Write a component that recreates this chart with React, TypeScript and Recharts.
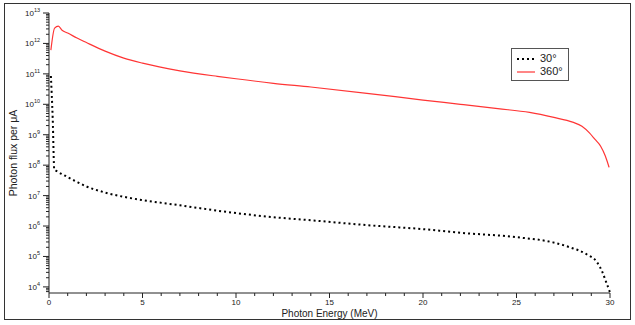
import { LineChart, Line, XAxis, YAxis, Legend } from 'recharts';

// 360 deg curve
const energy360 = [0.1, 0.3, 0.5, 0.7, 1, 1.5, 2, 3, 4, 5, 7, 9, 10, 12, 14, 17, 20, 22, 24, 25.7, 27, 28, 28.5, 28.9, 29.2, 29.5, 29.75, 29.95];
const flux360 = [6.0e11, 3.2e12, 3.7e12, 2.7e12, 2.2e12, 1.5e12, 1.07e12, 5.6e11, 3.3e11, 2.25e11, 1.26e11, 8.3e10, 6.9e10, 4.9e10, 3.7e10, 2.3e10, 1.38e10, 1.0e10, 7.2e9, 5.4e9, 3.7e9, 2.6e9, 1.9e9, 1.15e9, 7.0e8, 4.2e8, 2.0e8, 8.5e7];

// 30 deg curve
const energy30 = [0.1, 0.2, 0.28, 0.43, 0.86, 1.5, 2, 3, 4, 5, 7, 9, 12, 14, 17, 20, 22, 25, 26.95, 27.85, 28.75, 29.3, 29.6, 29.8, 29.95, 30];
const flux30 = [8.5e10, 3.2e9, 7.4e7, 6.3e7, 4.5e7, 2.8e7, 2.0e7, 1.26e7, 9.1e6, 7.1e6, 4.8e6, 3.2e6, 1.95e6, 1.55e6, 1.07e6, 7.9e5, 6.0e5, 4.3e5, 2.9e5, 2.0e5, 1.18e5, 6.5e4, 3.0e4, 1.4e4, 8.0e3, 6.4e3];

const xTicks = [0, 1, 2, 3, 4, 5, 6, 7, 8, 9, 10, 11, 12, 13, 14, 15, 16, 17, 18, 19, 20, 21, 22, 23, 24, 25, 26, 27, 28, 29, 30];
const decades = [3, 4, 5, 6, 7, 8, 9, 10, 11, 12, 13];
const minorSteps = [1, 2, 3, 4, 5, 6, 7, 8, 9];

const Y_MIN = 6.3e3;
const Y_MAX = 1e13;

const yTicks = decades
  .flatMap((d) => minorSteps.map((m) => m * Math.pow(10, d)))
  .filter((v) => v >= Y_MIN && v <= Y_MAX);

const data360 = energy360.map((e, i) => ({ e, v: flux360[i] }));
const data30 = energy30.map((e, i) => ({ e, v: flux30[i] }));

const FONT = '"Liberation Sans", Arial, sans-serif';
const INK = '#222';
const RED = '#ff3535';

function YTick(props: any) {
  const { x, y, payload } = props;
  const v = payload.value;
  const exp = Math.round(Math.log10(v));
  const major = Math.abs(v - Math.pow(10, exp)) < v * 1e-6;
  return (
    <g>
      <line x1={x - (major ? 6 : 3)} x2={x} y1={y} y2={y} stroke={INK} strokeWidth={1} />
      {major && (
        <text x={x - 9} y={y + 3} textAnchor="end" fontSize={8} fill={INK} fontFamily={FONT}>
          10<tspan dy={-4} fontSize={5.5}>{exp}</tspan>
        </text>
      )}
    </g>
  );
}

function XTick(props: any) {
  const { x, y, payload } = props;
  const v = payload.value;
  const major = v % 5 === 0;
  return (
    <g>
      <line x1={x} x2={x} y1={y} y2={y + (major ? 5 : 3)} stroke={INK} strokeWidth={1} />
      {major && (
        <text x={x} y={y + 12} textAnchor="middle" fontSize={8} fill={INK} fontFamily={FONT}>
          {v}
        </text>
      )}
    </g>
  );
}

function LegendBox() {
  return (
    <div
      style={{
        border: '1px solid #555',
        padding: '3px 5px 2px 4px',
        background: '#fff',
        fontFamily: FONT,
        fontSize: 11,
        color: INK,
        lineHeight: '13px',
        textAlign: 'left',
      }}
    >
      <div style={{ display: 'flex', alignItems: 'center' }}>
        <svg width={20} height={6} style={{ marginRight: 4 }}>
          <line x1={1} x2={19} y1={3} y2={3} stroke="#000" strokeWidth={2} strokeDasharray="2 3" />
        </svg>
        30°
      </div>
      <div style={{ display: 'flex', alignItems: 'center' }}>
        <svg width={20} height={6} style={{ marginRight: 4 }}>
          <line x1={1} x2={19} y1={3} y2={3} stroke={RED} strokeWidth={1.2} />
        </svg>
        360°
      </div>
    </div>
  );
}

export default function App() {
  return (
    <div style={{ position: 'absolute', left: 0, top: 0, width: 635, height: 325, background: '#fff' }}>
      <div
        style={{
          position: 'absolute',
          left: 4,
          top: 3,
          width: 625,
          height: 315,
          border: '1px solid #333',
        }}
      />
      <LineChart
        width={635}
        height={325}
        margin={{ top: 13, right: 25, bottom: 0, left: 0 }}
        style={{ position: 'absolute', left: 0, top: 0 }}
      >
        <XAxis
          dataKey="e"
          type="number"
          domain={[0, 30]}
          ticks={xTicks}
          interval={0}
          height={32}
          tickSize={0}
          tickMargin={0}
          tick={<XTick />}
          axisLine={{ stroke: INK }}
          tickLine={false}
          allowDuplicatedCategory={false}
          label={{
            content: (p: any) => (
              <text
                x={p.viewBox.x + p.viewBox.width / 2}
                y={p.viewBox.y + 24}
                textAnchor="middle"
                fontSize={10}
                fill={INK}
                fontFamily={FONT}
              >
                Photon Energy (MeV)
              </text>
            ),
          }}
        />
        <YAxis
          type="number"
          scale="log"
          domain={[Y_MIN, Y_MAX]}
          allowDataOverflow
          ticks={yTicks}
          interval={0}
          width={49}
          tickSize={0}
          tickMargin={0}
          tick={<YTick />}
          axisLine={{ stroke: INK }}
          tickLine={false}
          label={{
            content: (p: any) => (
              <text
                x={13}
                y={p.viewBox.y + p.viewBox.height / 2}
                textAnchor="middle"
                dominantBaseline="central"
                fontSize={10.5}
                fill={INK}
                fontFamily={FONT}
                transform={`rotate(-90, 13, ${p.viewBox.y + p.viewBox.height / 2})`}
              >
                Photon flux per μA
              </text>
            ),
          }}
        />
        <Legend
          content={<LegendBox />}
          layout="horizontal"
          verticalAlign="middle"
          align="center"
          wrapperStyle={{ position: 'absolute', left: 511, top: 48, width: 'auto', height: 'auto' }}
        />
        <Line
          data={data30}
          dataKey="v"
          type="monotone"
          stroke="#000"
          strokeWidth={2}
          strokeDasharray="2 3"
          dot={false}
          isAnimationActive={false}
        />
        <Line
          data={data360}
          dataKey="v"
          type="monotone"
          stroke={RED}
          strokeWidth={1.2}
          dot={false}
          isAnimationActive={false}
        />
      </LineChart>
    </div>
  );
}
